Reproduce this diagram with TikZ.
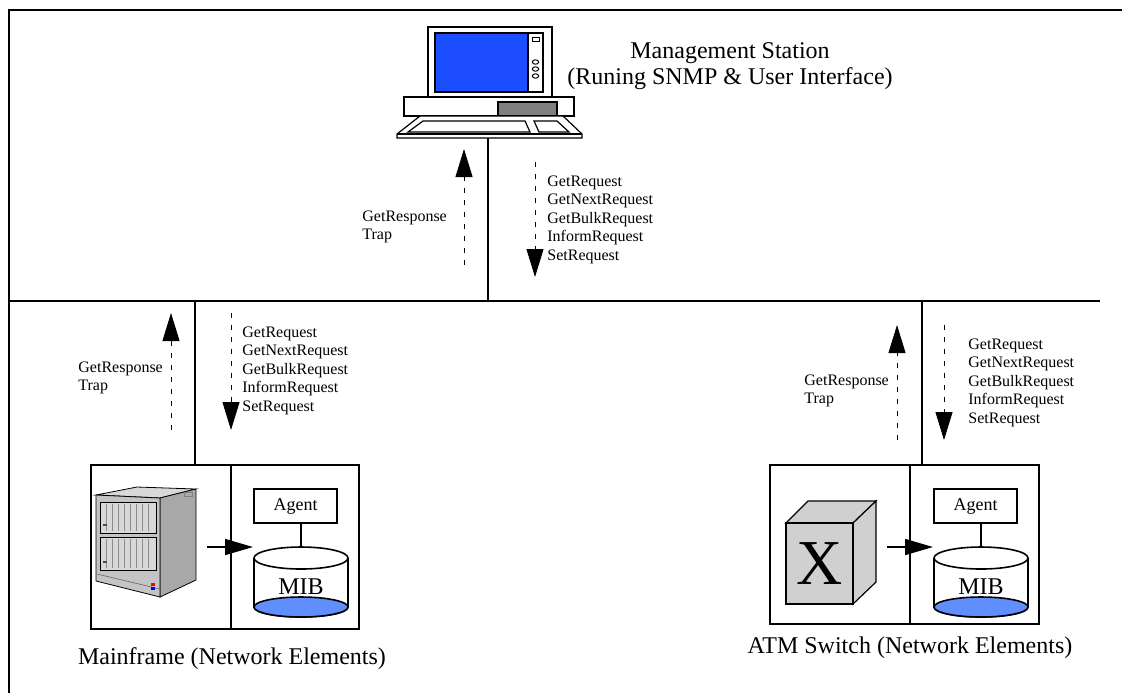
\documentclass[tikz,border=0pt]{standalone}
\usepackage{fontspec}
\setmainfont{Liberation Serif}
\usepackage{tikz}
\usetikzlibrary{arrows.meta,positioning,calc}
\definecolor{ecran}{RGB}{28,78,255}
\definecolor{mibfond}{RGB}{96,142,252}
\definecolor{lecteur}{RGB}{128,128,128}
\definecolor{baiegris}{RGB}{196,196,196}
\definecolor{baieflanc}{RGB}{168,168,168}
\definecolor{baiedessus}{RGB}{216,216,216}
\definecolor{cubegris}{RGB}{208,208,208}

\begin{document}
\begin{tikzpicture}[x=0.5pt,y=-0.5pt,
    bus/.style={line width=1pt},
    elembox/.style={draw,line width=0.8pt,inner sep=0pt},
    reply/.style={line width=0.5pt,dash pattern=on 2.5pt off 3.5pt,-{Triangle[length=14pt,width=8.5pt]}},
    feed/.style={line width=0.8pt,-{Triangle[length=14pt,width=8pt]}},
    msg/.style={font=\fontsize{8}{9}\selectfont,anchor=base west,inner sep=0pt},
    bigtext/.style={font=\fontsize{12}{13}\selectfont,anchor=base,inner sep=0pt}]
  \useasboundingbox (0,0) rectangle (1122,693);
  \draw[line width=1.2pt] (9,693) -- (9,10) -- (1122,10);

  % the LAN
  \coordinate (busL) at (9,301);
  \coordinate (busR) at (1100,301);
  \draw[bus] (busL) -- (busR);

  % management station: monitor, system unit, keyboard
  \draw[line width=0.6pt,fill=white] (428,27) rectangle (552,97);
  \draw[line width=0.6pt,fill=ecran] (435,33) rectangle (528,92);
  \draw[line width=0.6pt] (528,33) rectangle (543,92);
  \draw[line width=0.5pt] (532,37) rectangle (539,41);
  \foreach \y in {62,69,76}
    \draw[line width=0.5pt] (535.5,\y) ellipse[x radius=1.6pt,y radius=1.1pt];
  \draw[line width=0.6pt] (404,97) rectangle (574,116);
  \draw[line width=0.6pt,fill=lecteur] (498,102) rectangle (557,116);
  \draw[line width=0.6pt,fill=white] (420,116) -- (563,116) -- (582,134) -- (582,138) -- (397,138) -- (397,134) -- cycle;
  \draw[line width=0.6pt] (397,134) -- (582,134);
  \draw[line width=0.6pt] (423,121) -- (525,121) -- (530,132) -- (408,132) -- cycle;
  \draw[line width=0.6pt] (534,121) -- (557,121) -- (569,132) -- (539,132) -- cycle;
  \coordinate (station) at (488,138);
  \draw[bus] (station) -- (station |- busL);
  \node[bigtext] (stname) at (730,58) {Management Station};
  \node[bigtext] (stsub) at (730,84) {(Runing SNMP \& User Interface)};

  % requests down, responses up
  \coordinate (upT0) at (464,265); \coordinate (upT1) at (464,149);
  \coordinate (dnT0) at (535,162); \coordinate (dnT1) at (535,277);
  \coordinate (upL0) at (171,430); \coordinate (upL1) at (171,313);
  \coordinate (dnL0) at (231,313); \coordinate (dnL1) at (231,430);
  \coordinate (upR0) at (897,440); \coordinate (upR1) at (897,325);
  \coordinate (dnR0) at (944,325); \coordinate (dnR1) at (944,440);
  \foreach \s in {T,L,R}{
    \draw[reply] (up\s0) -- (up\s1);
    \draw[reply] (dn\s0) -- (dn\s1);}
  \foreach \s/\gx/\gy in {T/547/186,L/242/337,R/968/349}
    \foreach \m [count=\i from 0] in {GetRequest,GetNextRequest,GetBulkRequest,InformRequest,SetRequest}
      \node[msg] (req\s\i) at (\gx,\gy+18.5*\i) {\m};
  \foreach \s/\gx/\gy in {T/362/221,L/78/372,R/804/385}{
    \node[msg] (resp\s) at (\gx,\gy) {GetResponse};
    \node[msg] (trap\s) at (\gx,\gy+18.5) {Trap};}

  % mainframe element
  \coordinate (tapL) at (195,301);
  \node[elembox,minimum width=134pt,minimum height=82pt] (mfbox) at (225,547) {};
  \draw[bus] (tapL) -- (tapL |- mfbox.north);
  \coordinate (mfdiv) at (231,301);
  \draw[line width=0.8pt] (mfdiv |- mfbox.north) -- (mfdiv |- mfbox.south);
  \draw[line width=0.4pt,fill=baiedessus] (96,495) -- (137,487) -- (196,489) -- (160,498) -- cycle;
  \draw[line width=0.4pt,fill=baieflanc] (160,498) -- (196,489) -- (196,580) -- (160,597) -- cycle;
  \draw[line width=0.4pt,fill=baiegris] (96,495) -- (160,498) -- (160,597) -- (96,581) -- cycle;
  \draw[line width=0.4pt,fill=baiedessus] (100,502) rectangle (156,533);
  \draw[line width=0.4pt,fill=baiedessus] (100,537) rectangle (156,570);
  \foreach \x in {106,112,...,150}{
    \draw[line width=0.3pt,black!45] (\x,504) -- (\x,531);
    \draw[line width=0.3pt,black!45] (\x,539) -- (\x,568);}
  \draw[line width=0.3pt,black!60] (97,574) -- (160,589);
  \fill[black!70] (103,524) rectangle (107,526);
  \fill[black!70] (103,561) rectangle (107,563);
  \fill[red] (151,583) rectangle (155,586);
  \fill[blue] (151,587) rectangle (155,590);
  \draw[line width=0.3pt,black!50] (184,492) rectangle (192,496);
  \node[bigtext] (mflabel) at (232,664) {Mainframe (Network Elements)};

  % ATM switch element
  \coordinate (tapR) at (922,301);
  \node[elembox,minimum width=134.5pt,minimum height=79.5pt] (atmbox) at (904.5,544.5) {};
  \draw[bus] (tapR) -- (tapR |- atmbox.north);
  \coordinate (atmdiv) at (910,301);
  \draw[line width=0.8pt] (atmdiv |- atmbox.north) -- (atmdiv |- atmbox.south);
  \draw[line width=0.6pt,fill=cubegris] (786,523) -- (808,501) -- (876,501) -- (853,523) -- cycle;
  \draw[line width=0.6pt,fill=cubegris] (853,523) -- (876,501) -- (876,582) -- (853,604) -- cycle;
  \draw[line width=0.6pt,fill=cubegris] (786,523) rectangle (853,604);
  \node[font=\fontsize{32}{32}\selectfont,inner sep=0pt] (xsw) at (819.5,563.5) {X};
  \node[bigtext] (atmlabel) at (910,653) {ATM Switch (Network Elements)};

  % agent and MIB store in both elements
  \foreach \dx/\s in {0/L,680/R}{
    \node[elembox,minimum width=41.5pt,minimum height=17pt,font=\fontsize{9}{10}\selectfont] (agent\s) at (295.5+\dx,506) {Agent};
    \coordinate (mib\s) at (301+\dx,548);
    \draw[line width=0.6pt] (agent\s.south -| mib\s) -- (mib\s);
    \draw[line width=0.8pt,fill=white] (254+\dx,558) -- (254+\dx,607)
      arc[start angle=180,end angle=360,x radius=23.5pt,y radius=5pt] -- (348+\dx,558);
    \draw[line width=0.8pt,fill=mibfond] (301+\dx,607) ellipse[x radius=23.5pt,y radius=5pt];
    \draw[line width=0.8pt,fill=white] (301+\dx,558) ellipse[x radius=23.5pt,y radius=5.5pt];
    \node[bigtext] (mibtxt\s) at (301+\dx,594) {MIB};
    \coordinate (src\s) at (207+\dx,547);
    \coordinate (in\s) at (253+\dx,547);
    \draw[feed] (src\s) -- (in\s);}
\end{tikzpicture}
\end{document}
